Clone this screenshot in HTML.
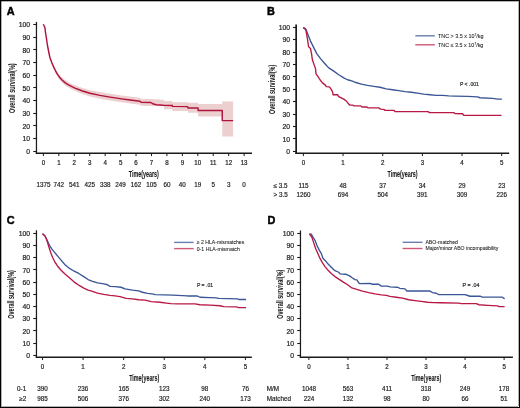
<!DOCTYPE html>
<html><head><meta charset="utf-8"><style>
html,body{margin:0;padding:0;background:#fff;}
body{width:520px;height:408px;overflow:hidden;}
svg{display:block;font-family:"Liberation Sans", sans-serif;will-change:transform;}
</style></head><body>
<svg width="520" height="408" viewBox="0 0 520 408">
<rect x="0" y="0" width="520" height="408" fill="#fff"/>
<polygon points="43.30,24.30 44.90,27.14 45.50,32.00 46.50,38.12 47.40,44.25 48.60,50.35 49.90,56.39 51.75,61.10 53.60,65.20 55.50,68.80 57.50,72.05 58.75,73.71 59.50,74.76 62.00,77.43 62.50,77.83 65.00,79.95 67.50,81.57 68.00,81.89 72.00,83.94 75.00,85.30 82.50,88.00 90.00,90.20 100.00,92.10 110.00,93.75 120.00,95.20 130.00,96.58 140.00,97.85 141.00,98.80 150.00,98.98 164.00,99.80 164.00,101.00 172.40,101.00 172.40,102.25 188.00,102.25 188.00,102.75 198.10,102.75 198.10,104.00 222.25,104.00 222.25,101.50 233.10,101.50 233.10,136.60 222.25,136.60 222.25,116.60 198.10,116.60 198.10,112.80 188.00,112.80 188.00,111.10 172.40,111.10 172.40,109.20 164.00,109.20 164.00,106.20 150.00,105.98 141.00,105.70 140.00,104.75 130.00,103.42 120.00,102.00 110.00,100.45 100.00,98.70 90.00,96.40 82.50,94.00 75.00,90.90 72.00,89.46 68.00,87.31 67.50,86.97 65.00,85.25 62.50,83.03 62.00,82.57 59.50,79.64 58.75,78.51 57.50,76.55 55.50,72.80 53.60,68.60 51.75,63.90 49.90,58.61 48.60,52.15 47.40,45.75 46.50,39.38 45.50,33.00 44.90,27.86 43.30,24.30" fill="#ecd0d0" stroke="none"/>
<polyline points="43.30,24.30 44.90,27.50 45.50,32.50 46.50,38.75 47.40,45.00 48.60,51.25 49.90,57.50 51.75,62.50 53.60,66.90 55.50,70.80 57.50,74.30 59.50,77.20 62.00,80.00 65.00,82.60 68.00,84.60 72.00,86.70 75.00,88.10 82.50,91.00 90.00,93.30 100.00,95.40 110.00,97.10 120.00,98.60 130.00,100.00 140.00,101.30 141.00,102.25 150.80,102.50 152.70,103.70 156.20,104.70 163.50,105.20 172.40,105.50 172.40,106.40 187.50,106.60 188.00,107.90 198.10,107.90 198.10,110.40 222.25,110.40 222.25,120.60 233.10,120.60" fill="none" stroke="#b0123e" stroke-width="1.45" stroke-linejoin="round"/>
<polyline points="303.20,27.65 306.10,29.85 308.00,34.85 310.50,41.10 313.60,47.35 316.75,53.60 320.50,58.60 324.25,62.95 326.50,65.55 328.75,67.85 333.75,71.15 338.75,74.75 343.75,77.85 347.50,79.75 352.50,81.15 355.00,82.25 361.25,84.10 367.50,85.35 373.75,86.35 380.00,87.25 386.25,88.85 392.50,89.75 398.75,90.60 405.00,91.55 411.25,92.25 417.50,93.10 423.75,94.10 430.00,94.75 436.25,95.35 442.50,95.35 448.75,95.85 455.00,96.05 467.50,96.35 477.50,96.85 480.00,97.75 492.50,98.45 497.50,99.10 501.90,99.10" fill="none" stroke="#3a5696" stroke-width="1.35" stroke-linejoin="round"/>
<polyline points="303.20,27.65 305.50,28.60 306.10,31.10 307.40,38.60 308.60,46.75 310.50,48.60 311.50,53.60 312.40,59.85 314.30,65.15 315.50,68.60 316.00,73.85 317.50,75.95 320.00,79.75 322.50,82.85 325.60,85.35 326.25,86.60 329.40,86.85 330.60,88.45 332.50,91.60 333.10,94.75 337.50,94.75 338.75,96.60 343.75,99.10 346.25,100.95 348.75,104.10 350.00,105.10 353.10,105.10 353.75,105.85 360.60,105.85 361.90,106.95 366.90,106.95 368.10,107.85 378.75,107.85 380.60,109.10 383.75,109.35 385.00,110.35 393.75,110.35 395.00,111.60 428.10,111.60 429.40,112.60 453.75,112.60 455.00,113.55 462.50,113.75 463.75,115.35 501.50,115.35" fill="none" stroke="#b81845" stroke-width="1.35" stroke-linejoin="round"/>
<polyline points="42.50,233.85 45.00,235.95 47.50,240.95 49.40,245.35 51.90,249.10 55.00,252.85 58.10,256.60 61.25,260.35 65.00,264.75 68.75,267.85 73.75,270.95 78.75,273.45 83.75,276.65 88.10,279.55 92.50,281.35 97.50,282.85 103.75,283.85 107.50,284.75 110.00,286.35 115.00,286.60 121.00,287.25 125.00,288.85 132.50,290.10 138.75,290.95 142.50,292.25 147.50,293.45 153.75,294.10 155.00,294.55 172.50,295.15 187.50,295.95 196.90,295.95 200.00,297.25 210.00,297.60 216.25,297.85 218.75,298.45 237.50,298.85 238.75,299.45 246.00,299.45" fill="none" stroke="#3a5696" stroke-width="1.35" stroke-linejoin="round"/>
<polyline points="42.50,233.85 45.00,235.95 46.90,240.35 48.75,246.60 50.60,252.25 52.50,257.25 55.00,262.25 57.50,265.95 60.60,269.75 65.00,274.10 69.40,277.85 73.10,280.95 75.00,282.65 80.00,285.95 83.75,288.10 88.10,290.10 92.50,291.35 97.50,293.10 103.75,294.35 110.00,295.35 115.00,295.95 120.00,296.55 126.25,298.45 132.50,298.85 138.75,299.75 145.00,300.10 151.25,301.60 160.00,302.25 166.25,303.10 171.00,303.65 177.50,303.85 195.00,303.85 200.00,304.75 210.00,305.10 220.00,305.75 223.75,306.60 236.25,306.95 238.75,307.60 246.00,307.60" fill="none" stroke="#b81845" stroke-width="1.35" stroke-linejoin="round"/>
<polyline points="309.40,233.85 311.25,234.10 313.10,237.25 315.00,240.35 316.90,245.35 319.40,250.35 321.25,253.45 323.10,258.45 325.60,260.95 328.10,264.10 331.25,267.25 334.40,270.35 338.75,272.25 340.00,273.85 345.60,274.25 347.50,274.85 350.00,276.10 352.50,277.95 355.00,279.60 356.90,279.85 358.75,282.95 360.00,283.60 370.00,283.35 372.50,284.25 378.75,284.25 381.25,286.10 387.50,286.10 390.00,286.85 397.50,287.25 400.00,288.45 405.00,288.85 406.90,290.95 430.00,290.95 432.50,292.60 436.25,293.25 438.75,294.55 465.00,294.55 466.90,295.25 470.00,296.25 480.50,296.25 482.10,297.05 502.10,297.05 504.60,298.85" fill="none" stroke="#3a5696" stroke-width="1.35" stroke-linejoin="round"/>
<polyline points="309.40,233.85 311.90,237.25 313.75,242.85 315.60,248.45 317.50,252.85 320.00,258.45 322.50,262.85 325.00,266.60 328.10,270.35 331.25,273.45 335.00,276.60 338.75,279.10 340.00,279.85 343.75,282.35 346.90,284.25 351.90,287.95 357.50,289.60 362.50,291.10 368.75,292.60 375.00,293.85 381.25,294.85 386.25,295.45 390.00,296.35 396.25,297.25 402.50,298.10 408.75,299.75 415.00,300.60 421.25,301.35 427.50,302.25 433.75,302.60 441.00,302.75 458.75,303.10 461.25,303.65 476.25,303.65 479.00,304.75 487.75,305.35 497.75,305.95 499.00,306.60 504.60,306.60" fill="none" stroke="#b81845" stroke-width="1.35" stroke-linejoin="round"/>
<text x="6.80" y="14.70" font-size="10.9" text-anchor="start" font-weight="bold" fill="#000" stroke="#000" stroke-width="0.45">A</text>
<line x1="36.46" y1="21.9" x2="36.46" y2="153.9" stroke="#1a1a1a" stroke-width="1.25"/>
<line x1="35.76" y1="153.3" x2="252.0" y2="153.3" stroke="#1a1a1a" stroke-width="1.5"/>
<line x1="33.26" y1="151.50" x2="36.46" y2="151.50" stroke="#1a1a1a" stroke-width="1.1"/>
<g transform="translate(30.10,153.90) scale(0.9,1)"><text font-size="7.6" text-anchor="end" font-weight="normal" fill="#1e1e1e"  stroke="#1e1e1e" stroke-width="0.22">0</text></g>
<line x1="33.26" y1="138.50" x2="36.46" y2="138.50" stroke="#1a1a1a" stroke-width="1.1"/>
<g transform="translate(30.10,141.23) scale(0.9,1)"><text font-size="7.6" text-anchor="end" font-weight="normal" fill="#1e1e1e"  stroke="#1e1e1e" stroke-width="0.22">10</text></g>
<line x1="33.26" y1="125.50" x2="36.46" y2="125.50" stroke="#1a1a1a" stroke-width="1.1"/>
<g transform="translate(30.10,128.56) scale(0.9,1)"><text font-size="7.6" text-anchor="end" font-weight="normal" fill="#1e1e1e"  stroke="#1e1e1e" stroke-width="0.22">20</text></g>
<line x1="33.26" y1="113.50" x2="36.46" y2="113.50" stroke="#1a1a1a" stroke-width="1.1"/>
<g transform="translate(30.10,115.89) scale(0.9,1)"><text font-size="7.6" text-anchor="end" font-weight="normal" fill="#1e1e1e"  stroke="#1e1e1e" stroke-width="0.22">30</text></g>
<line x1="33.26" y1="100.50" x2="36.46" y2="100.50" stroke="#1a1a1a" stroke-width="1.1"/>
<g transform="translate(30.10,103.22) scale(0.9,1)"><text font-size="7.6" text-anchor="end" font-weight="normal" fill="#1e1e1e"  stroke="#1e1e1e" stroke-width="0.22">40</text></g>
<line x1="33.26" y1="87.50" x2="36.46" y2="87.50" stroke="#1a1a1a" stroke-width="1.1"/>
<g transform="translate(30.10,90.55) scale(0.9,1)"><text font-size="7.6" text-anchor="end" font-weight="normal" fill="#1e1e1e"  stroke="#1e1e1e" stroke-width="0.22">50</text></g>
<line x1="33.26" y1="75.50" x2="36.46" y2="75.50" stroke="#1a1a1a" stroke-width="1.1"/>
<g transform="translate(30.10,77.88) scale(0.9,1)"><text font-size="7.6" text-anchor="end" font-weight="normal" fill="#1e1e1e"  stroke="#1e1e1e" stroke-width="0.22">60</text></g>
<line x1="33.26" y1="62.50" x2="36.46" y2="62.50" stroke="#1a1a1a" stroke-width="1.1"/>
<g transform="translate(30.10,65.21) scale(0.9,1)"><text font-size="7.6" text-anchor="end" font-weight="normal" fill="#1e1e1e"  stroke="#1e1e1e" stroke-width="0.22">70</text></g>
<line x1="33.26" y1="49.50" x2="36.46" y2="49.50" stroke="#1a1a1a" stroke-width="1.1"/>
<g transform="translate(30.10,52.54) scale(0.9,1)"><text font-size="7.6" text-anchor="end" font-weight="normal" fill="#1e1e1e"  stroke="#1e1e1e" stroke-width="0.22">80</text></g>
<line x1="33.26" y1="37.50" x2="36.46" y2="37.50" stroke="#1a1a1a" stroke-width="1.1"/>
<g transform="translate(30.10,39.87) scale(0.9,1)"><text font-size="7.6" text-anchor="end" font-weight="normal" fill="#1e1e1e"  stroke="#1e1e1e" stroke-width="0.22">90</text></g>
<line x1="33.26" y1="24.50" x2="36.46" y2="24.50" stroke="#1a1a1a" stroke-width="1.1"/>
<g transform="translate(30.10,27.20) scale(0.9,1)"><text font-size="7.6" text-anchor="end" font-weight="normal" fill="#1e1e1e"  stroke="#1e1e1e" stroke-width="0.22">100</text></g>
<line x1="43.40" y1="153.3" x2="43.40" y2="156.10000000000002" stroke="#1a1a1a" stroke-width="1"/>
<g transform="translate(43.40,164.90) scale(0.86,1)"><text font-size="7.2" text-anchor="middle" font-weight="normal" fill="#1e1e1e"  stroke="#1e1e1e" stroke-width="0.22">0</text></g>
<line x1="58.84" y1="153.3" x2="58.84" y2="156.10000000000002" stroke="#1a1a1a" stroke-width="1"/>
<g transform="translate(58.84,164.90) scale(0.86,1)"><text font-size="7.2" text-anchor="middle" font-weight="normal" fill="#1e1e1e"  stroke="#1e1e1e" stroke-width="0.22">1</text></g>
<line x1="74.28" y1="153.3" x2="74.28" y2="156.10000000000002" stroke="#1a1a1a" stroke-width="1"/>
<g transform="translate(74.28,164.90) scale(0.86,1)"><text font-size="7.2" text-anchor="middle" font-weight="normal" fill="#1e1e1e"  stroke="#1e1e1e" stroke-width="0.22">2</text></g>
<line x1="89.72" y1="153.3" x2="89.72" y2="156.10000000000002" stroke="#1a1a1a" stroke-width="1"/>
<g transform="translate(89.72,164.90) scale(0.86,1)"><text font-size="7.2" text-anchor="middle" font-weight="normal" fill="#1e1e1e"  stroke="#1e1e1e" stroke-width="0.22">3</text></g>
<line x1="105.16" y1="153.3" x2="105.16" y2="156.10000000000002" stroke="#1a1a1a" stroke-width="1"/>
<g transform="translate(105.16,164.90) scale(0.86,1)"><text font-size="7.2" text-anchor="middle" font-weight="normal" fill="#1e1e1e"  stroke="#1e1e1e" stroke-width="0.22">4</text></g>
<line x1="120.60" y1="153.3" x2="120.60" y2="156.10000000000002" stroke="#1a1a1a" stroke-width="1"/>
<g transform="translate(120.60,164.90) scale(0.86,1)"><text font-size="7.2" text-anchor="middle" font-weight="normal" fill="#1e1e1e"  stroke="#1e1e1e" stroke-width="0.22">5</text></g>
<line x1="136.04" y1="153.3" x2="136.04" y2="156.10000000000002" stroke="#1a1a1a" stroke-width="1"/>
<g transform="translate(136.04,164.90) scale(0.86,1)"><text font-size="7.2" text-anchor="middle" font-weight="normal" fill="#1e1e1e"  stroke="#1e1e1e" stroke-width="0.22">6</text></g>
<line x1="151.48" y1="153.3" x2="151.48" y2="156.10000000000002" stroke="#1a1a1a" stroke-width="1"/>
<g transform="translate(151.48,164.90) scale(0.86,1)"><text font-size="7.2" text-anchor="middle" font-weight="normal" fill="#1e1e1e"  stroke="#1e1e1e" stroke-width="0.22">7</text></g>
<line x1="166.92" y1="153.3" x2="166.92" y2="156.10000000000002" stroke="#1a1a1a" stroke-width="1"/>
<g transform="translate(166.92,164.90) scale(0.86,1)"><text font-size="7.2" text-anchor="middle" font-weight="normal" fill="#1e1e1e"  stroke="#1e1e1e" stroke-width="0.22">8</text></g>
<line x1="182.36" y1="153.3" x2="182.36" y2="156.10000000000002" stroke="#1a1a1a" stroke-width="1"/>
<g transform="translate(182.36,164.90) scale(0.86,1)"><text font-size="7.2" text-anchor="middle" font-weight="normal" fill="#1e1e1e"  stroke="#1e1e1e" stroke-width="0.22">9</text></g>
<line x1="197.80" y1="153.3" x2="197.80" y2="156.10000000000002" stroke="#1a1a1a" stroke-width="1"/>
<g transform="translate(197.80,164.90) scale(0.86,1)"><text font-size="7.2" text-anchor="middle" font-weight="normal" fill="#1e1e1e"  stroke="#1e1e1e" stroke-width="0.22">10</text></g>
<line x1="213.24" y1="153.3" x2="213.24" y2="156.10000000000002" stroke="#1a1a1a" stroke-width="1"/>
<g transform="translate(213.24,164.90) scale(0.86,1)"><text font-size="7.2" text-anchor="middle" font-weight="normal" fill="#1e1e1e"  stroke="#1e1e1e" stroke-width="0.22">11</text></g>
<line x1="228.68" y1="153.3" x2="228.68" y2="156.10000000000002" stroke="#1a1a1a" stroke-width="1"/>
<g transform="translate(228.68,164.90) scale(0.86,1)"><text font-size="7.2" text-anchor="middle" font-weight="normal" fill="#1e1e1e"  stroke="#1e1e1e" stroke-width="0.22">12</text></g>
<line x1="244.12" y1="153.3" x2="244.12" y2="156.10000000000002" stroke="#1a1a1a" stroke-width="1"/>
<g transform="translate(244.12,164.90) scale(0.86,1)"><text font-size="7.2" text-anchor="middle" font-weight="normal" fill="#1e1e1e"  stroke="#1e1e1e" stroke-width="0.22">13</text></g>
<text x="143.75" y="176.50" font-size="9.6" text-anchor="middle" font-weight="bold" fill="#1a1a1a" textLength="30.1" lengthAdjust="spacingAndGlyphs" stroke="#1a1a1a" stroke-width="0.1">Time(years)</text>
<text transform="translate(14.60,88.20) rotate(-90)" font-size="9.3" font-weight="bold" fill="#111" text-anchor="middle" textLength="49.8" lengthAdjust="spacingAndGlyphs">Overall survival(%)</text>
<text x="43.40" y="186.90" font-size="6.3" text-anchor="middle" font-weight="normal" fill="#1e1e1e"  stroke="#1e1e1e" stroke-width="0.18">1375</text>
<text x="58.84" y="186.90" font-size="6.3" text-anchor="middle" font-weight="normal" fill="#1e1e1e"  stroke="#1e1e1e" stroke-width="0.18">742</text>
<text x="74.28" y="186.90" font-size="6.3" text-anchor="middle" font-weight="normal" fill="#1e1e1e"  stroke="#1e1e1e" stroke-width="0.18">541</text>
<text x="89.72" y="186.90" font-size="6.3" text-anchor="middle" font-weight="normal" fill="#1e1e1e"  stroke="#1e1e1e" stroke-width="0.18">425</text>
<text x="105.16" y="186.90" font-size="6.3" text-anchor="middle" font-weight="normal" fill="#1e1e1e"  stroke="#1e1e1e" stroke-width="0.18">338</text>
<text x="120.60" y="186.90" font-size="6.3" text-anchor="middle" font-weight="normal" fill="#1e1e1e"  stroke="#1e1e1e" stroke-width="0.18">249</text>
<text x="136.04" y="186.90" font-size="6.3" text-anchor="middle" font-weight="normal" fill="#1e1e1e"  stroke="#1e1e1e" stroke-width="0.18">162</text>
<text x="151.48" y="186.90" font-size="6.3" text-anchor="middle" font-weight="normal" fill="#1e1e1e"  stroke="#1e1e1e" stroke-width="0.18">105</text>
<text x="166.92" y="186.90" font-size="6.3" text-anchor="middle" font-weight="normal" fill="#1e1e1e"  stroke="#1e1e1e" stroke-width="0.18">60</text>
<text x="182.36" y="186.90" font-size="6.3" text-anchor="middle" font-weight="normal" fill="#1e1e1e"  stroke="#1e1e1e" stroke-width="0.18">40</text>
<text x="197.80" y="186.90" font-size="6.3" text-anchor="middle" font-weight="normal" fill="#1e1e1e"  stroke="#1e1e1e" stroke-width="0.18">19</text>
<text x="213.24" y="186.90" font-size="6.3" text-anchor="middle" font-weight="normal" fill="#1e1e1e"  stroke="#1e1e1e" stroke-width="0.18">5</text>
<text x="228.68" y="186.90" font-size="6.3" text-anchor="middle" font-weight="normal" fill="#1e1e1e"  stroke="#1e1e1e" stroke-width="0.18">3</text>
<text x="244.12" y="186.90" font-size="6.3" text-anchor="middle" font-weight="normal" fill="#1e1e1e"  stroke="#1e1e1e" stroke-width="0.18">0</text>
<text x="266.90" y="14.70" font-size="10.9" text-anchor="start" font-weight="bold" fill="#000" stroke="#000" stroke-width="0.45">B</text>
<line x1="296.15" y1="24.4" x2="296.15" y2="153.9" stroke="#1a1a1a" stroke-width="1.7"/>
<line x1="295.45" y1="153.3" x2="509.2" y2="153.3" stroke="#1a1a1a" stroke-width="1.5"/>
<line x1="292.95" y1="151.50" x2="296.15" y2="151.50" stroke="#1a1a1a" stroke-width="1.1"/>
<g transform="translate(290.10,154.10) scale(0.9,1)"><text font-size="7.6" text-anchor="end" font-weight="normal" fill="#1e1e1e"  stroke="#1e1e1e" stroke-width="0.22">0</text></g>
<line x1="292.95" y1="138.50" x2="296.15" y2="138.50" stroke="#1a1a1a" stroke-width="1.1"/>
<g transform="translate(290.10,141.69) scale(0.9,1)"><text font-size="7.6" text-anchor="end" font-weight="normal" fill="#1e1e1e"  stroke="#1e1e1e" stroke-width="0.22">10</text></g>
<line x1="292.95" y1="126.50" x2="296.15" y2="126.50" stroke="#1a1a1a" stroke-width="1.1"/>
<g transform="translate(290.10,129.28) scale(0.9,1)"><text font-size="7.6" text-anchor="end" font-weight="normal" fill="#1e1e1e"  stroke="#1e1e1e" stroke-width="0.22">20</text></g>
<line x1="292.95" y1="114.50" x2="296.15" y2="114.50" stroke="#1a1a1a" stroke-width="1.1"/>
<g transform="translate(290.10,116.87) scale(0.9,1)"><text font-size="7.6" text-anchor="end" font-weight="normal" fill="#1e1e1e"  stroke="#1e1e1e" stroke-width="0.22">30</text></g>
<line x1="292.95" y1="101.50" x2="296.15" y2="101.50" stroke="#1a1a1a" stroke-width="1.1"/>
<g transform="translate(290.10,104.46) scale(0.9,1)"><text font-size="7.6" text-anchor="end" font-weight="normal" fill="#1e1e1e"  stroke="#1e1e1e" stroke-width="0.22">40</text></g>
<line x1="292.95" y1="89.50" x2="296.15" y2="89.50" stroke="#1a1a1a" stroke-width="1.1"/>
<g transform="translate(290.10,92.05) scale(0.9,1)"><text font-size="7.6" text-anchor="end" font-weight="normal" fill="#1e1e1e"  stroke="#1e1e1e" stroke-width="0.22">50</text></g>
<line x1="292.95" y1="76.50" x2="296.15" y2="76.50" stroke="#1a1a1a" stroke-width="1.1"/>
<g transform="translate(290.10,79.64) scale(0.9,1)"><text font-size="7.6" text-anchor="end" font-weight="normal" fill="#1e1e1e"  stroke="#1e1e1e" stroke-width="0.22">60</text></g>
<line x1="292.95" y1="64.50" x2="296.15" y2="64.50" stroke="#1a1a1a" stroke-width="1.1"/>
<g transform="translate(290.10,67.23) scale(0.9,1)"><text font-size="7.6" text-anchor="end" font-weight="normal" fill="#1e1e1e"  stroke="#1e1e1e" stroke-width="0.22">70</text></g>
<line x1="292.95" y1="52.50" x2="296.15" y2="52.50" stroke="#1a1a1a" stroke-width="1.1"/>
<g transform="translate(290.10,54.82) scale(0.9,1)"><text font-size="7.6" text-anchor="end" font-weight="normal" fill="#1e1e1e"  stroke="#1e1e1e" stroke-width="0.22">80</text></g>
<line x1="292.95" y1="39.50" x2="296.15" y2="39.50" stroke="#1a1a1a" stroke-width="1.1"/>
<g transform="translate(290.10,42.41) scale(0.9,1)"><text font-size="7.6" text-anchor="end" font-weight="normal" fill="#1e1e1e"  stroke="#1e1e1e" stroke-width="0.22">90</text></g>
<line x1="292.95" y1="27.50" x2="296.15" y2="27.50" stroke="#1a1a1a" stroke-width="1.1"/>
<g transform="translate(290.10,30.00) scale(0.9,1)"><text font-size="7.6" text-anchor="end" font-weight="normal" fill="#1e1e1e"  stroke="#1e1e1e" stroke-width="0.22">100</text></g>
<line x1="303.40" y1="153.3" x2="303.40" y2="156.10000000000002" stroke="#1a1a1a" stroke-width="1"/>
<g transform="translate(303.40,164.90) scale(0.86,1)"><text font-size="7.2" text-anchor="middle" font-weight="normal" fill="#1e1e1e"  stroke="#1e1e1e" stroke-width="0.22">0</text></g>
<line x1="343.06" y1="153.3" x2="343.06" y2="156.10000000000002" stroke="#1a1a1a" stroke-width="1"/>
<g transform="translate(343.06,164.90) scale(0.86,1)"><text font-size="7.2" text-anchor="middle" font-weight="normal" fill="#1e1e1e"  stroke="#1e1e1e" stroke-width="0.22">1</text></g>
<line x1="382.72" y1="153.3" x2="382.72" y2="156.10000000000002" stroke="#1a1a1a" stroke-width="1"/>
<g transform="translate(382.72,164.90) scale(0.86,1)"><text font-size="7.2" text-anchor="middle" font-weight="normal" fill="#1e1e1e"  stroke="#1e1e1e" stroke-width="0.22">2</text></g>
<line x1="422.38" y1="153.3" x2="422.38" y2="156.10000000000002" stroke="#1a1a1a" stroke-width="1"/>
<g transform="translate(422.38,164.90) scale(0.86,1)"><text font-size="7.2" text-anchor="middle" font-weight="normal" fill="#1e1e1e"  stroke="#1e1e1e" stroke-width="0.22">3</text></g>
<line x1="462.04" y1="153.3" x2="462.04" y2="156.10000000000002" stroke="#1a1a1a" stroke-width="1"/>
<g transform="translate(462.04,164.90) scale(0.86,1)"><text font-size="7.2" text-anchor="middle" font-weight="normal" fill="#1e1e1e"  stroke="#1e1e1e" stroke-width="0.22">4</text></g>
<line x1="501.70" y1="153.3" x2="501.70" y2="156.10000000000002" stroke="#1a1a1a" stroke-width="1"/>
<g transform="translate(501.70,164.90) scale(0.86,1)"><text font-size="7.2" text-anchor="middle" font-weight="normal" fill="#1e1e1e"  stroke="#1e1e1e" stroke-width="0.22">5</text></g>
<text x="402.50" y="176.50" font-size="9.6" text-anchor="middle" font-weight="bold" fill="#1a1a1a" textLength="30.1" lengthAdjust="spacingAndGlyphs" stroke="#1a1a1a" stroke-width="0.1">Time(years)</text>
<text transform="translate(274.60,89.40) rotate(-90)" font-size="9.3" font-weight="bold" fill="#111" text-anchor="middle" textLength="49.4" lengthAdjust="spacingAndGlyphs">Overall survival(%)</text>
<text x="273.60" y="187.80" font-size="6.3" text-anchor="start" font-weight="normal" fill="#1e1e1e"  stroke="#1e1e1e" stroke-width="0.18">≤ 3.5</text>
<text x="303.40" y="187.80" font-size="6.3" text-anchor="middle" font-weight="normal" fill="#1e1e1e"  stroke="#1e1e1e" stroke-width="0.18">115</text>
<text x="343.06" y="187.80" font-size="6.3" text-anchor="middle" font-weight="normal" fill="#1e1e1e"  stroke="#1e1e1e" stroke-width="0.18">48</text>
<text x="382.72" y="187.80" font-size="6.3" text-anchor="middle" font-weight="normal" fill="#1e1e1e"  stroke="#1e1e1e" stroke-width="0.18">37</text>
<text x="422.38" y="187.80" font-size="6.3" text-anchor="middle" font-weight="normal" fill="#1e1e1e"  stroke="#1e1e1e" stroke-width="0.18">34</text>
<text x="462.04" y="187.80" font-size="6.3" text-anchor="middle" font-weight="normal" fill="#1e1e1e"  stroke="#1e1e1e" stroke-width="0.18">29</text>
<text x="501.70" y="187.80" font-size="6.3" text-anchor="middle" font-weight="normal" fill="#1e1e1e"  stroke="#1e1e1e" stroke-width="0.18">23</text>
<text x="273.60" y="197.40" font-size="6.3" text-anchor="start" font-weight="normal" fill="#1e1e1e"  stroke="#1e1e1e" stroke-width="0.18">> 3.5</text>
<text x="303.40" y="197.40" font-size="6.3" text-anchor="middle" font-weight="normal" fill="#1e1e1e"  stroke="#1e1e1e" stroke-width="0.18">1260</text>
<text x="343.06" y="197.40" font-size="6.3" text-anchor="middle" font-weight="normal" fill="#1e1e1e"  stroke="#1e1e1e" stroke-width="0.18">694</text>
<text x="382.72" y="197.40" font-size="6.3" text-anchor="middle" font-weight="normal" fill="#1e1e1e"  stroke="#1e1e1e" stroke-width="0.18">504</text>
<text x="422.38" y="197.40" font-size="6.3" text-anchor="middle" font-weight="normal" fill="#1e1e1e"  stroke="#1e1e1e" stroke-width="0.18">391</text>
<text x="462.04" y="197.40" font-size="6.3" text-anchor="middle" font-weight="normal" fill="#1e1e1e"  stroke="#1e1e1e" stroke-width="0.18">309</text>
<text x="501.70" y="197.40" font-size="6.3" text-anchor="middle" font-weight="normal" fill="#1e1e1e"  stroke="#1e1e1e" stroke-width="0.18">226</text>
<text x="6.80" y="223.50" font-size="10.9" text-anchor="start" font-weight="bold" fill="#000" stroke="#000" stroke-width="0.45">C</text>
<line x1="36.46" y1="230.3" x2="36.46" y2="357.85" stroke="#1a1a1a" stroke-width="1.25"/>
<line x1="35.76" y1="357.25" x2="251.8" y2="357.25" stroke="#1a1a1a" stroke-width="1.5"/>
<line x1="33.26" y1="355.50" x2="36.46" y2="355.50" stroke="#1a1a1a" stroke-width="1.1"/>
<g transform="translate(30.10,358.10) scale(0.9,1)"><text font-size="7.6" text-anchor="end" font-weight="normal" fill="#1e1e1e"  stroke="#1e1e1e" stroke-width="0.22">0</text></g>
<line x1="33.26" y1="343.50" x2="36.46" y2="343.50" stroke="#1a1a1a" stroke-width="1.1"/>
<g transform="translate(30.10,345.89) scale(0.9,1)"><text font-size="7.6" text-anchor="end" font-weight="normal" fill="#1e1e1e"  stroke="#1e1e1e" stroke-width="0.22">10</text></g>
<line x1="33.26" y1="330.50" x2="36.46" y2="330.50" stroke="#1a1a1a" stroke-width="1.1"/>
<g transform="translate(30.10,333.68) scale(0.9,1)"><text font-size="7.6" text-anchor="end" font-weight="normal" fill="#1e1e1e"  stroke="#1e1e1e" stroke-width="0.22">20</text></g>
<line x1="33.26" y1="318.50" x2="36.46" y2="318.50" stroke="#1a1a1a" stroke-width="1.1"/>
<g transform="translate(30.10,321.47) scale(0.9,1)"><text font-size="7.6" text-anchor="end" font-weight="normal" fill="#1e1e1e"  stroke="#1e1e1e" stroke-width="0.22">30</text></g>
<line x1="33.26" y1="306.50" x2="36.46" y2="306.50" stroke="#1a1a1a" stroke-width="1.1"/>
<g transform="translate(30.10,309.26) scale(0.9,1)"><text font-size="7.6" text-anchor="end" font-weight="normal" fill="#1e1e1e"  stroke="#1e1e1e" stroke-width="0.22">40</text></g>
<line x1="33.26" y1="294.50" x2="36.46" y2="294.50" stroke="#1a1a1a" stroke-width="1.1"/>
<g transform="translate(30.10,297.05) scale(0.9,1)"><text font-size="7.6" text-anchor="end" font-weight="normal" fill="#1e1e1e"  stroke="#1e1e1e" stroke-width="0.22">50</text></g>
<line x1="33.26" y1="282.50" x2="36.46" y2="282.50" stroke="#1a1a1a" stroke-width="1.1"/>
<g transform="translate(30.10,284.84) scale(0.9,1)"><text font-size="7.6" text-anchor="end" font-weight="normal" fill="#1e1e1e"  stroke="#1e1e1e" stroke-width="0.22">60</text></g>
<line x1="33.26" y1="269.50" x2="36.46" y2="269.50" stroke="#1a1a1a" stroke-width="1.1"/>
<g transform="translate(30.10,272.63) scale(0.9,1)"><text font-size="7.6" text-anchor="end" font-weight="normal" fill="#1e1e1e"  stroke="#1e1e1e" stroke-width="0.22">70</text></g>
<line x1="33.26" y1="257.50" x2="36.46" y2="257.50" stroke="#1a1a1a" stroke-width="1.1"/>
<g transform="translate(30.10,260.42) scale(0.9,1)"><text font-size="7.6" text-anchor="end" font-weight="normal" fill="#1e1e1e"  stroke="#1e1e1e" stroke-width="0.22">80</text></g>
<line x1="33.26" y1="245.50" x2="36.46" y2="245.50" stroke="#1a1a1a" stroke-width="1.1"/>
<g transform="translate(30.10,248.21) scale(0.9,1)"><text font-size="7.6" text-anchor="end" font-weight="normal" fill="#1e1e1e"  stroke="#1e1e1e" stroke-width="0.22">90</text></g>
<line x1="33.26" y1="233.50" x2="36.46" y2="233.50" stroke="#1a1a1a" stroke-width="1.1"/>
<g transform="translate(30.10,236.00) scale(0.9,1)"><text font-size="7.6" text-anchor="end" font-weight="normal" fill="#1e1e1e"  stroke="#1e1e1e" stroke-width="0.22">100</text></g>
<line x1="42.50" y1="357.25" x2="42.50" y2="360.05" stroke="#1a1a1a" stroke-width="1"/>
<g transform="translate(42.50,368.70) scale(0.86,1)"><text font-size="7.2" text-anchor="middle" font-weight="normal" fill="#1e1e1e"  stroke="#1e1e1e" stroke-width="0.22">0</text></g>
<line x1="83.08" y1="357.25" x2="83.08" y2="360.05" stroke="#1a1a1a" stroke-width="1"/>
<g transform="translate(83.08,368.70) scale(0.86,1)"><text font-size="7.2" text-anchor="middle" font-weight="normal" fill="#1e1e1e"  stroke="#1e1e1e" stroke-width="0.22">1</text></g>
<line x1="123.66" y1="357.25" x2="123.66" y2="360.05" stroke="#1a1a1a" stroke-width="1"/>
<g transform="translate(123.66,368.70) scale(0.86,1)"><text font-size="7.2" text-anchor="middle" font-weight="normal" fill="#1e1e1e"  stroke="#1e1e1e" stroke-width="0.22">2</text></g>
<line x1="164.24" y1="357.25" x2="164.24" y2="360.05" stroke="#1a1a1a" stroke-width="1"/>
<g transform="translate(164.24,368.70) scale(0.86,1)"><text font-size="7.2" text-anchor="middle" font-weight="normal" fill="#1e1e1e"  stroke="#1e1e1e" stroke-width="0.22">3</text></g>
<line x1="204.82" y1="357.25" x2="204.82" y2="360.05" stroke="#1a1a1a" stroke-width="1"/>
<g transform="translate(204.82,368.70) scale(0.86,1)"><text font-size="7.2" text-anchor="middle" font-weight="normal" fill="#1e1e1e"  stroke="#1e1e1e" stroke-width="0.22">4</text></g>
<line x1="245.40" y1="357.25" x2="245.40" y2="360.05" stroke="#1a1a1a" stroke-width="1"/>
<g transform="translate(245.40,368.70) scale(0.86,1)"><text font-size="7.2" text-anchor="middle" font-weight="normal" fill="#1e1e1e"  stroke="#1e1e1e" stroke-width="0.22">5</text></g>
<text x="144.20" y="380.50" font-size="9.6" text-anchor="middle" font-weight="bold" fill="#1a1a1a" textLength="30.1" lengthAdjust="spacingAndGlyphs" stroke="#1a1a1a" stroke-width="0.1">Time(years)</text>
<text transform="translate(14.10,294.50) rotate(-90)" font-size="9.3" font-weight="bold" fill="#111" text-anchor="middle" textLength="48.4" lengthAdjust="spacingAndGlyphs">Overall survival(%)</text>
<text x="17.10" y="391.00" font-size="6.3" text-anchor="start" font-weight="normal" fill="#1e1e1e"  stroke="#1e1e1e" stroke-width="0.18">0-1</text>
<text x="42.50" y="391.00" font-size="6.3" text-anchor="middle" font-weight="normal" fill="#1e1e1e"  stroke="#1e1e1e" stroke-width="0.18">390</text>
<text x="83.08" y="391.00" font-size="6.3" text-anchor="middle" font-weight="normal" fill="#1e1e1e"  stroke="#1e1e1e" stroke-width="0.18">236</text>
<text x="123.66" y="391.00" font-size="6.3" text-anchor="middle" font-weight="normal" fill="#1e1e1e"  stroke="#1e1e1e" stroke-width="0.18">165</text>
<text x="164.24" y="391.00" font-size="6.3" text-anchor="middle" font-weight="normal" fill="#1e1e1e"  stroke="#1e1e1e" stroke-width="0.18">123</text>
<text x="204.82" y="391.00" font-size="6.3" text-anchor="middle" font-weight="normal" fill="#1e1e1e"  stroke="#1e1e1e" stroke-width="0.18">98</text>
<text x="245.40" y="391.00" font-size="6.3" text-anchor="middle" font-weight="normal" fill="#1e1e1e"  stroke="#1e1e1e" stroke-width="0.18">76</text>
<text x="19.30" y="401.40" font-size="6.3" text-anchor="start" font-weight="normal" fill="#1e1e1e"  stroke="#1e1e1e" stroke-width="0.18">≥2</text>
<text x="42.50" y="401.40" font-size="6.3" text-anchor="middle" font-weight="normal" fill="#1e1e1e"  stroke="#1e1e1e" stroke-width="0.18">985</text>
<text x="83.08" y="401.40" font-size="6.3" text-anchor="middle" font-weight="normal" fill="#1e1e1e"  stroke="#1e1e1e" stroke-width="0.18">506</text>
<text x="123.66" y="401.40" font-size="6.3" text-anchor="middle" font-weight="normal" fill="#1e1e1e"  stroke="#1e1e1e" stroke-width="0.18">376</text>
<text x="164.24" y="401.40" font-size="6.3" text-anchor="middle" font-weight="normal" fill="#1e1e1e"  stroke="#1e1e1e" stroke-width="0.18">302</text>
<text x="204.82" y="401.40" font-size="6.3" text-anchor="middle" font-weight="normal" fill="#1e1e1e"  stroke="#1e1e1e" stroke-width="0.18">240</text>
<text x="245.40" y="401.40" font-size="6.3" text-anchor="middle" font-weight="normal" fill="#1e1e1e"  stroke="#1e1e1e" stroke-width="0.18">173</text>
<text x="267.40" y="223.50" font-size="10.9" text-anchor="start" font-weight="bold" fill="#000" stroke="#000" stroke-width="0.45">D</text>
<line x1="300.46" y1="230.5" x2="300.46" y2="357.8" stroke="#1a1a1a" stroke-width="1.25"/>
<line x1="299.76" y1="357.2" x2="512.9" y2="357.2" stroke="#1a1a1a" stroke-width="1.5"/>
<line x1="297.26" y1="355.50" x2="300.46" y2="355.50" stroke="#1a1a1a" stroke-width="1.1"/>
<g transform="translate(294.10,358.10) scale(0.9,1)"><text font-size="7.6" text-anchor="end" font-weight="normal" fill="#1e1e1e"  stroke="#1e1e1e" stroke-width="0.22">0</text></g>
<line x1="297.26" y1="343.50" x2="300.46" y2="343.50" stroke="#1a1a1a" stroke-width="1.1"/>
<g transform="translate(294.10,345.89) scale(0.9,1)"><text font-size="7.6" text-anchor="end" font-weight="normal" fill="#1e1e1e"  stroke="#1e1e1e" stroke-width="0.22">10</text></g>
<line x1="297.26" y1="330.50" x2="300.46" y2="330.50" stroke="#1a1a1a" stroke-width="1.1"/>
<g transform="translate(294.10,333.68) scale(0.9,1)"><text font-size="7.6" text-anchor="end" font-weight="normal" fill="#1e1e1e"  stroke="#1e1e1e" stroke-width="0.22">20</text></g>
<line x1="297.26" y1="318.50" x2="300.46" y2="318.50" stroke="#1a1a1a" stroke-width="1.1"/>
<g transform="translate(294.10,321.47) scale(0.9,1)"><text font-size="7.6" text-anchor="end" font-weight="normal" fill="#1e1e1e"  stroke="#1e1e1e" stroke-width="0.22">30</text></g>
<line x1="297.26" y1="306.50" x2="300.46" y2="306.50" stroke="#1a1a1a" stroke-width="1.1"/>
<g transform="translate(294.10,309.26) scale(0.9,1)"><text font-size="7.6" text-anchor="end" font-weight="normal" fill="#1e1e1e"  stroke="#1e1e1e" stroke-width="0.22">40</text></g>
<line x1="297.26" y1="294.50" x2="300.46" y2="294.50" stroke="#1a1a1a" stroke-width="1.1"/>
<g transform="translate(294.10,297.05) scale(0.9,1)"><text font-size="7.6" text-anchor="end" font-weight="normal" fill="#1e1e1e"  stroke="#1e1e1e" stroke-width="0.22">50</text></g>
<line x1="297.26" y1="282.50" x2="300.46" y2="282.50" stroke="#1a1a1a" stroke-width="1.1"/>
<g transform="translate(294.10,284.84) scale(0.9,1)"><text font-size="7.6" text-anchor="end" font-weight="normal" fill="#1e1e1e"  stroke="#1e1e1e" stroke-width="0.22">60</text></g>
<line x1="297.26" y1="269.50" x2="300.46" y2="269.50" stroke="#1a1a1a" stroke-width="1.1"/>
<g transform="translate(294.10,272.63) scale(0.9,1)"><text font-size="7.6" text-anchor="end" font-weight="normal" fill="#1e1e1e"  stroke="#1e1e1e" stroke-width="0.22">70</text></g>
<line x1="297.26" y1="257.50" x2="300.46" y2="257.50" stroke="#1a1a1a" stroke-width="1.1"/>
<g transform="translate(294.10,260.42) scale(0.9,1)"><text font-size="7.6" text-anchor="end" font-weight="normal" fill="#1e1e1e"  stroke="#1e1e1e" stroke-width="0.22">80</text></g>
<line x1="297.26" y1="245.50" x2="300.46" y2="245.50" stroke="#1a1a1a" stroke-width="1.1"/>
<g transform="translate(294.10,248.21) scale(0.9,1)"><text font-size="7.6" text-anchor="end" font-weight="normal" fill="#1e1e1e"  stroke="#1e1e1e" stroke-width="0.22">90</text></g>
<line x1="297.26" y1="233.50" x2="300.46" y2="233.50" stroke="#1a1a1a" stroke-width="1.1"/>
<g transform="translate(294.10,236.00) scale(0.9,1)"><text font-size="7.6" text-anchor="end" font-weight="normal" fill="#1e1e1e"  stroke="#1e1e1e" stroke-width="0.22">100</text></g>
<line x1="308.90" y1="357.2" x2="308.90" y2="360.0" stroke="#1a1a1a" stroke-width="1"/>
<g transform="translate(308.90,368.70) scale(0.86,1)"><text font-size="7.2" text-anchor="middle" font-weight="normal" fill="#1e1e1e"  stroke="#1e1e1e" stroke-width="0.22">0</text></g>
<line x1="347.94" y1="357.2" x2="347.94" y2="360.0" stroke="#1a1a1a" stroke-width="1"/>
<g transform="translate(347.94,368.70) scale(0.86,1)"><text font-size="7.2" text-anchor="middle" font-weight="normal" fill="#1e1e1e"  stroke="#1e1e1e" stroke-width="0.22">1</text></g>
<line x1="386.98" y1="357.2" x2="386.98" y2="360.0" stroke="#1a1a1a" stroke-width="1"/>
<g transform="translate(386.98,368.70) scale(0.86,1)"><text font-size="7.2" text-anchor="middle" font-weight="normal" fill="#1e1e1e"  stroke="#1e1e1e" stroke-width="0.22">2</text></g>
<line x1="426.02" y1="357.2" x2="426.02" y2="360.0" stroke="#1a1a1a" stroke-width="1"/>
<g transform="translate(426.02,368.70) scale(0.86,1)"><text font-size="7.2" text-anchor="middle" font-weight="normal" fill="#1e1e1e"  stroke="#1e1e1e" stroke-width="0.22">3</text></g>
<line x1="465.06" y1="357.2" x2="465.06" y2="360.0" stroke="#1a1a1a" stroke-width="1"/>
<g transform="translate(465.06,368.70) scale(0.86,1)"><text font-size="7.2" text-anchor="middle" font-weight="normal" fill="#1e1e1e"  stroke="#1e1e1e" stroke-width="0.22">4</text></g>
<line x1="504.10" y1="357.2" x2="504.10" y2="360.0" stroke="#1a1a1a" stroke-width="1"/>
<g transform="translate(504.10,368.70) scale(0.86,1)"><text font-size="7.2" text-anchor="middle" font-weight="normal" fill="#1e1e1e"  stroke="#1e1e1e" stroke-width="0.22">5</text></g>
<text x="426.20" y="380.50" font-size="9.6" text-anchor="middle" font-weight="bold" fill="#1a1a1a" textLength="30.1" lengthAdjust="spacingAndGlyphs" stroke="#1a1a1a" stroke-width="0.1">Time(years)</text>
<text transform="translate(282.70,294.20) rotate(-90)" font-size="9.3" font-weight="bold" fill="#111" text-anchor="middle" textLength="49.0" lengthAdjust="spacingAndGlyphs">Overall survival(%)</text>
<text x="266.80" y="391.30" font-size="6.3" text-anchor="start" font-weight="normal" fill="#1e1e1e"  stroke="#1e1e1e" stroke-width="0.18">M/M</text>
<text x="308.90" y="391.30" font-size="6.3" text-anchor="middle" font-weight="normal" fill="#1e1e1e"  stroke="#1e1e1e" stroke-width="0.18">1048</text>
<text x="347.94" y="391.30" font-size="6.3" text-anchor="middle" font-weight="normal" fill="#1e1e1e"  stroke="#1e1e1e" stroke-width="0.18">563</text>
<text x="386.98" y="391.30" font-size="6.3" text-anchor="middle" font-weight="normal" fill="#1e1e1e"  stroke="#1e1e1e" stroke-width="0.18">411</text>
<text x="426.02" y="391.30" font-size="6.3" text-anchor="middle" font-weight="normal" fill="#1e1e1e"  stroke="#1e1e1e" stroke-width="0.18">318</text>
<text x="465.06" y="391.30" font-size="6.3" text-anchor="middle" font-weight="normal" fill="#1e1e1e"  stroke="#1e1e1e" stroke-width="0.18">249</text>
<text x="504.10" y="391.30" font-size="6.3" text-anchor="middle" font-weight="normal" fill="#1e1e1e"  stroke="#1e1e1e" stroke-width="0.18">178</text>
<text x="266.80" y="401.30" font-size="6.3" text-anchor="start" font-weight="normal" fill="#1e1e1e"  stroke="#1e1e1e" stroke-width="0.18">Matched</text>
<text x="308.90" y="401.30" font-size="6.3" text-anchor="middle" font-weight="normal" fill="#1e1e1e"  stroke="#1e1e1e" stroke-width="0.18">224</text>
<text x="347.94" y="401.30" font-size="6.3" text-anchor="middle" font-weight="normal" fill="#1e1e1e"  stroke="#1e1e1e" stroke-width="0.18">132</text>
<text x="386.98" y="401.30" font-size="6.3" text-anchor="middle" font-weight="normal" fill="#1e1e1e"  stroke="#1e1e1e" stroke-width="0.18">98</text>
<text x="426.02" y="401.30" font-size="6.3" text-anchor="middle" font-weight="normal" fill="#1e1e1e"  stroke="#1e1e1e" stroke-width="0.18">80</text>
<text x="465.06" y="401.30" font-size="6.3" text-anchor="middle" font-weight="normal" fill="#1e1e1e"  stroke="#1e1e1e" stroke-width="0.18">66</text>
<text x="504.10" y="401.30" font-size="6.3" text-anchor="middle" font-weight="normal" fill="#1e1e1e"  stroke="#1e1e1e" stroke-width="0.18">51</text>
<line x1="415.3" y1="35.8" x2="434.9" y2="35.8" stroke="#2f4c8c" stroke-width="1.4" stroke-opacity="0.72"/><text x="438.00" y="37.70" font-size="5.4" text-anchor="start" font-weight="normal" fill="#1e1e1e"  stroke="#1e1e1e" stroke-width="0.08">TNC &gt; 3.5 x 10<tspan font-size="3.5" dy="-2">7</tspan><tspan dy="2">/kg</tspan></text>
<line x1="415.3" y1="44.8" x2="434.9" y2="44.8" stroke="#bc1745" stroke-width="1.4" stroke-opacity="0.72"/><text x="438.00" y="46.70" font-size="5.4" text-anchor="start" font-weight="normal" fill="#1e1e1e"  stroke="#1e1e1e" stroke-width="0.08">TNC ≤ 3.5 x 10<tspan font-size="3.5" dy="-2">7</tspan><tspan dy="2">/kg</tspan></text>
<text x="459.90" y="85.60" font-size="6.2" text-anchor="start" font-weight="normal" fill="#1e1e1e" textLength="19.0" lengthAdjust="spacingAndGlyphs" stroke="#1e1e1e" stroke-width="0.18">P &lt; .001</text>
<line x1="174.1" y1="242.4" x2="193.7" y2="242.4" stroke="#2f4c8c" stroke-width="1.4" stroke-opacity="0.72"/><text x="196.70" y="244.30" font-size="5.4" text-anchor="start" font-weight="normal" fill="#1e1e1e" textLength="47.6" lengthAdjust="spacingAndGlyphs" stroke="#1e1e1e" stroke-width="0.08">≥ 2 HLA-mismatches</text>
<line x1="174.1" y1="248.6" x2="193.7" y2="248.6" stroke="#bc1745" stroke-width="1.4" stroke-opacity="0.72"/><text x="196.70" y="250.50" font-size="5.4" text-anchor="start" font-weight="normal" fill="#1e1e1e" textLength="43.1" lengthAdjust="spacingAndGlyphs" stroke="#1e1e1e" stroke-width="0.08">0-1 HLA-mismatch</text>
<text x="196.90" y="286.90" font-size="6.2" text-anchor="start" font-weight="normal" fill="#1e1e1e" textLength="16.2" lengthAdjust="spacingAndGlyphs" stroke="#1e1e1e" stroke-width="0.18">P = .01</text>
<line x1="402.6" y1="242.3" x2="422.5" y2="242.3" stroke="#2f4c8c" stroke-width="1.4" stroke-opacity="0.72"/><text x="425.40" y="244.20" font-size="5.4" text-anchor="start" font-weight="normal" fill="#1e1e1e" textLength="32.6" lengthAdjust="spacingAndGlyphs" stroke="#1e1e1e" stroke-width="0.08">ABO-matched</text>
<line x1="402.6" y1="248.5" x2="422.5" y2="248.5" stroke="#bc1745" stroke-width="1.4" stroke-opacity="0.72"/><text x="425.40" y="250.40" font-size="5.4" text-anchor="start" font-weight="normal" fill="#1e1e1e" textLength="73.0" lengthAdjust="spacingAndGlyphs" stroke="#1e1e1e" stroke-width="0.08">Major/minor ABO incompatibility</text>
<text x="462.50" y="286.50" font-size="6.2" text-anchor="start" font-weight="normal" fill="#1e1e1e" textLength="16.9" lengthAdjust="spacingAndGlyphs" stroke="#1e1e1e" stroke-width="0.18">P = .04</text>
<rect x="0.5" y="0.5" width="519" height="407" fill="none" stroke="#000" stroke-width="1"/>
<line x1="0" y1="407.5" x2="520" y2="407.5" stroke="#000" stroke-width="1"/>
<g stroke="#000" stroke-width="1" stroke-opacity="0.3" fill="none">
<line x1="1" y1="1.5" x2="518" y2="1.5"/><line x1="1" y1="406.5" x2="518" y2="406.5"/>
<line x1="1.5" y1="1" x2="1.5" y2="406"/><line x1="518.5" y1="1" x2="518.5" y2="406"/>
</g>
</svg>
</body></html>
